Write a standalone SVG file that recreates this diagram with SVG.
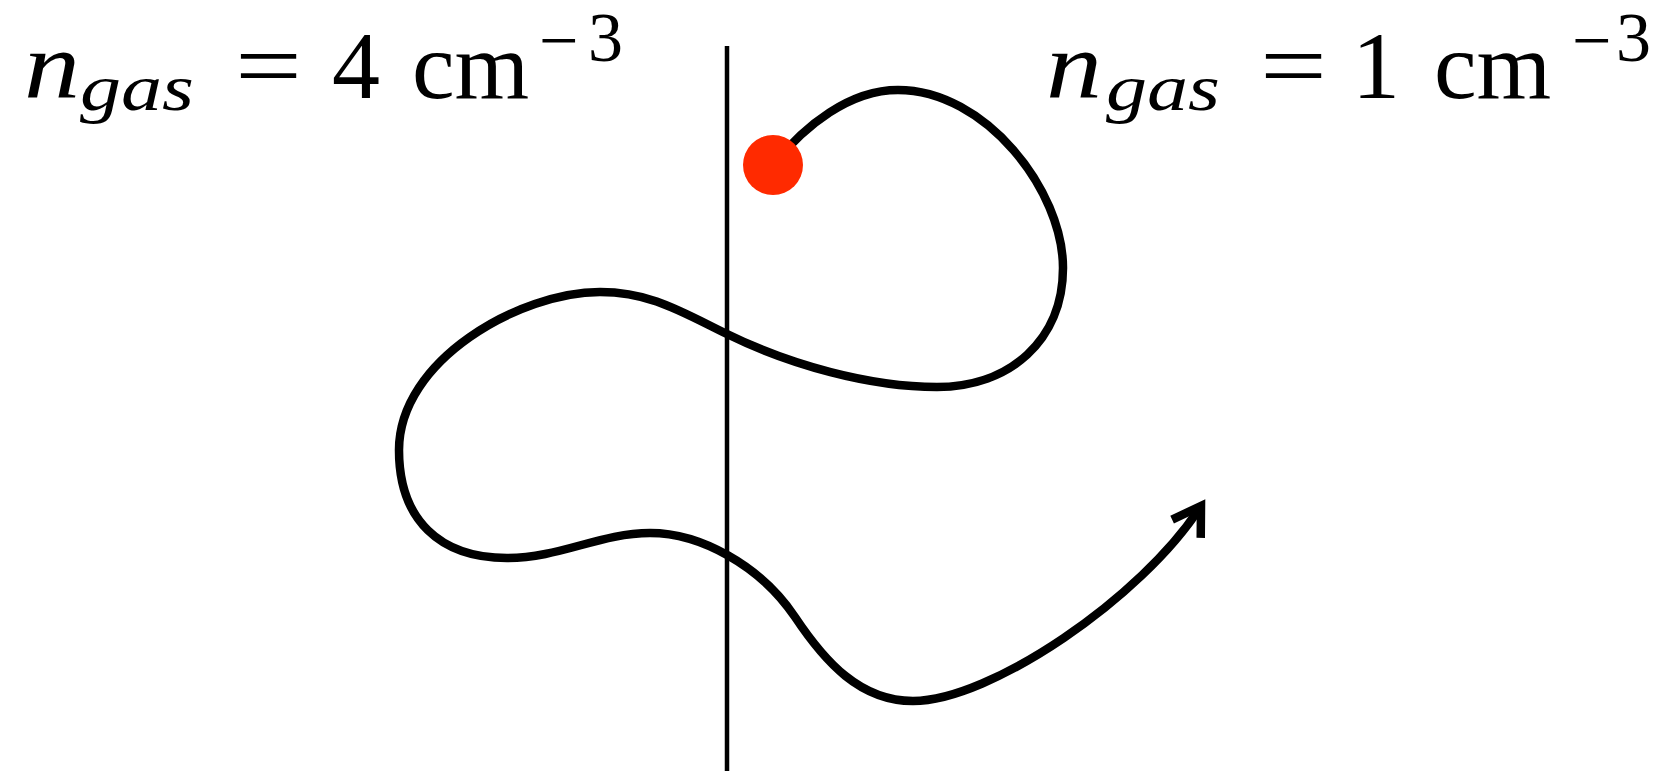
<svg xmlns="http://www.w3.org/2000/svg" width="1664" height="771" viewBox="0 0 1664 771">
<style>
.it{font-family:"Liberation Serif",serif;font-style:italic;fill:#000}
.rm{font-family:"Liberation Serif",serif;fill:#000}
.main{font-size:96px}
.sub{font-size:66px}
.sup{font-size:70px}
.traj{fill:none;stroke:#000;stroke-width:8.5;stroke-linejoin:round}
</style>
<defs>
<marker id="arr" markerUnits="userSpaceOnUse" markerWidth="60" markerHeight="60" refX="0" refY="0" orient="auto" overflow="visible">
<path d="M -27,-17 L 0,0 L -27,17" fill="none" stroke="#000" stroke-width="8.5" stroke-linejoin="miter"/>
</marker>
</defs>
<g id="label-left">
<text class="it main" x="24" y="98" textLength="56" lengthAdjust="spacingAndGlyphs">n</text>
<text class="it sub" x="80" y="110" textLength="114" lengthAdjust="spacingAndGlyphs">gas</text>
<text class="rm main" x="235" y="98" textLength="67" lengthAdjust="spacingAndGlyphs">=</text>
<text class="rm main" x="332" y="98">4</text>
<text class="rm main" x="412" y="98">cm</text>
<text class="rm sup" x="539" y="64">−</text>
<text class="rm sup" x="588" y="61">3</text>
</g>
<g id="label-right">
<text class="it main" x="1046" y="98" textLength="56" lengthAdjust="spacingAndGlyphs">n</text>
<text class="it sub" x="1106" y="110" textLength="114" lengthAdjust="spacingAndGlyphs">gas</text>
<text class="rm main" x="1260" y="98" textLength="67" lengthAdjust="spacingAndGlyphs">=</text>
<text class="rm main" x="1352" y="98">1</text>
<text class="rm main" x="1434" y="98">cm</text>
<text class="rm sup" x="1572" y="64">−</text>
<text class="rm sup" x="1616" y="61">3</text>
</g>
<g id="boundary">
<line x1="727" y1="46" x2="727" y2="771" stroke="#000" stroke-width="4.5"/>
</g>
<g id="connectors">
<path class="traj" marker-end="url(#arr)" d="M773,165 C805,125 850,90 898,90 C985,90 1063,190 1063,268 C1063,340 1010,387 937,387 C870,387 790,365 727,334 C680,311 650,292 600,292 C520,292 399,360 399,450 C399,520 440,558 507,558 C560,558 600,533 650,533 C700,533 760,565 795,617 C825,662 860,701 913,701 C990,701 1142,598 1201,506"/>
</g>
<g id="particle">
<circle cx="773" cy="165" r="30" fill="#ff2a00"/>
</g>
</svg>
